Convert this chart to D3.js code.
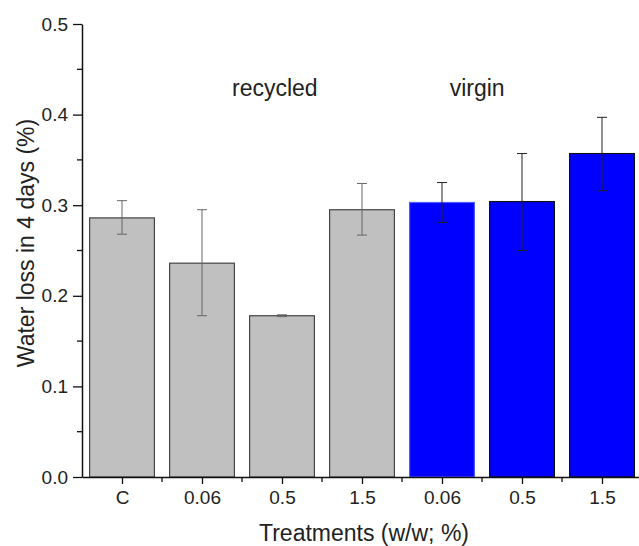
<!DOCTYPE html>
<html>
<head>
<meta charset="utf-8">
<script src="https://cdn.jsdelivr.net/npm/d3@7"></script>
<style>
  body { margin: 0; background: #fff; }
  text { font-family: "Liberation Sans", Arial, sans-serif; fill: #222; }
</style>
</head>
<body>
<script>
var w = 639, h = 546;

// data
var categories = ["C", "0.06", "0.5", "1.5", "0.06", "0.5", "1.5"];
var groups = ["recycled", "recycled", "recycled", "recycled", "virgin", "virgin", "virgin"];
var means = [0.286, 0.236, 0.178, 0.295, 0.303, 0.304, 0.357];
var errLow = [0.268, 0.178, 0.177, 0.267, 0.281, 0.250, 0.316];
var errHigh = [0.305, 0.295, 0.179, 0.324, 0.325, 0.357, 0.397];
var yTicks = [0, 0.1, 0.2, 0.3, 0.4, 0.5];
var groupLabels = [{name: "recycled", at: 2.91}, {name: "virgin", at: 5.44}];

var rows = means.map(function(m, i) {
  return {i: i, cat: categories[i], group: groups[i], mean: m, lo: errLow[i], hi: errHigh[i]};
});

var margin = {left: 82, top: 24, right: 0, bottom: 69};
var x0 = margin.left, x1 = 642, y0 = h - margin.bottom, y1 = margin.top;

var svg = d3.select("body").append("svg").attr("width", w).attr("height", h);

// x as a linear scale from 0.5 to 7.5 like the original plot
var x = d3.scaleLinear().domain([0.5, 7.5]).range([x0, x1]);
var y = d3.scaleLinear().domain([0, 0.5]).range([y0, y1]);
var barW = 0.81;

var fill = {recycled: "#c0c0c0", virgin: "#0000ff"};

// bars
svg.selectAll("rect.bar")
  .data(rows)
  .enter()
  .append("rect")
  .attr("class", "bar")
  .attr("x", function(d) { return x(d.i + 1 - barW / 2); })
  .attr("width", function(d) { return x(d.i + 1 + barW / 2) - x(d.i + 1 - barW / 2); })
  .attr("y", function(d) { return y(d.mean); })
  .attr("height", function(d) { return y(0) - y(d.mean); })
  .attr("fill", function(d) { return fill[d.group]; })
  .attr("stroke", function(d) { return d.i == 4 ? "#4a5cff" : (d.group == "virgin" ? "#111" : "#444"); })
  .attr("stroke-width", 1.2);

// error bars
var err = svg.selectAll("g.err")
  .data(rows)
  .enter()
  .append("g")
  .attr("class", "err")
  .attr("stroke", function(d) { return d.group == "virgin" ? "#222" : "#666"; })
  .attr("stroke-width", 1);
err.append("line")
  .attr("x1", function(d) { return x(d.i + 1); })
  .attr("x2", function(d) { return x(d.i + 1); })
  .attr("y1", function(d) { return y(d.lo); })
  .attr("y2", function(d) { return y(d.hi); });
err.append("line")
  .attr("x1", function(d) { return x(d.i + 1) - 5; })
  .attr("x2", function(d) { return x(d.i + 1) + 5; })
  .attr("y1", function(d) { return y(d.hi); })
  .attr("y2", function(d) { return y(d.hi); });
err.append("line")
  .attr("x1", function(d) { return x(d.i + 1) - 5; })
  .attr("x2", function(d) { return x(d.i + 1) + 5; })
  .attr("y1", function(d) { return y(d.lo); })
  .attr("y2", function(d) { return y(d.lo); });

// y axis with minor ticks
var yAxis = d3.axisLeft(y).tickValues(yTicks).tickFormat(d3.format(".1f")).tickSize(9).tickSizeOuter(0).tickPadding(5);
var gy = svg.append("g").attr("transform", "translate(" + x0 + ",0)").call(yAxis);
gy.selectAll(".tick line").attr("stroke", "#111").attr("stroke-width", 1.3);
gy.selectAll("text").style("font-size", "19px").attr("fill", "#222");
gy.select(".domain").attr("stroke", "#111").attr("stroke-width", 1.5);
gy.selectAll("line.minor")
  .data(d3.range(0.05, 0.5, 0.1))
  .enter()
  .append("line")
  .attr("class", "minor")
  .attr("x1", -5).attr("x2", 0)
  .attr("y1", function(d) { return y(d); })
  .attr("y2", function(d) { return y(d); })
  .attr("stroke", "#111").attr("stroke-width", 1.3);

// x axis
var xAxis = d3.axisBottom(x).tickValues(d3.range(1, 8)).tickFormat(function(d) { return categories[d - 1]; })
  .tickSize(7).tickSizeOuter(0).tickPadding(7);
var gx = svg.append("g").attr("transform", "translate(0," + y0 + ")").call(xAxis);
gx.selectAll(".tick line").attr("stroke", "#111").attr("stroke-width", 1.3);
gx.selectAll("text").style("font-size", "19px").attr("fill", "#222");
gx.select(".domain").attr("stroke", "#111").attr("stroke-width", 1.5);
gx.selectAll("line.minor")
  .data(d3.range(1.5, 7.5, 1))
  .enter()
  .append("line")
  .attr("class", "minor")
  .attr("x1", function(d) { return x(d); })
  .attr("x2", function(d) { return x(d); })
  .attr("y1", 0).attr("y2", 5)
  .attr("stroke", "#111").attr("stroke-width", 1.3);

// group labels
svg.selectAll("text.group")
  .data(groupLabels)
  .enter()
  .append("text")
  .attr("class", "group")
  .attr("x", function(d) { return x(d.at); })
  .attr("y", 96)
  .attr("text-anchor", "middle")
  .style("font-size", "23px")
  .text(function(d) { return d.name; });

// axis titles
svg.append("text")
  .attr("x", 364).attr("y", 541)
  .attr("text-anchor", "middle")
  .style("font-size", "23px")
  .text("Treatments (w/w; %)");

svg.append("text")
  .attr("transform", "translate(34,243) rotate(-90)")
  .attr("text-anchor", "middle")
  .style("font-size", "23px")
  .text("Water loss in 4 days (%)");
</script>
</body>
</html>
